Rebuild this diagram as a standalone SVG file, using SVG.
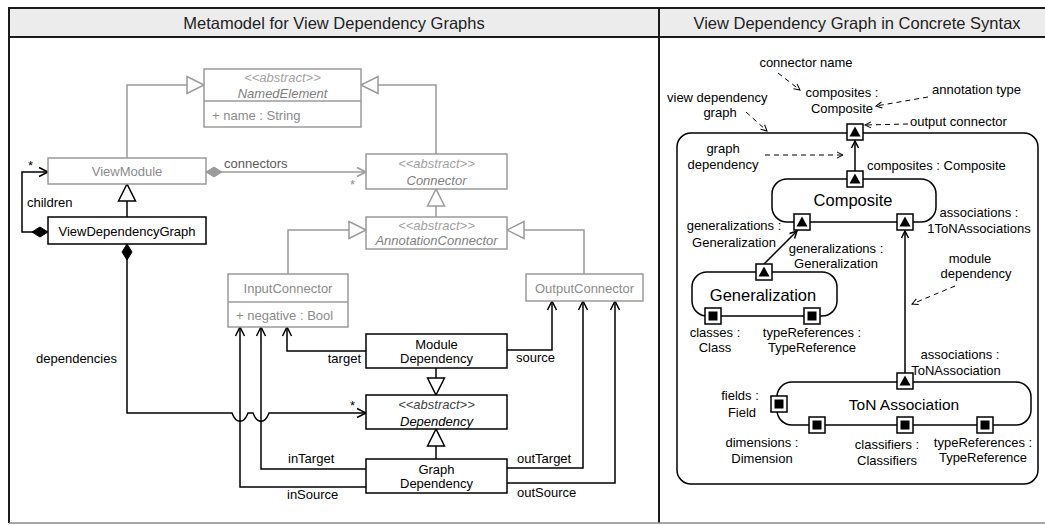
<svg xmlns="http://www.w3.org/2000/svg" width="1045" height="525" viewBox="0 0 1045 525">
  <style>
    text { font-family: "Liberation Sans", Arial, Helvetica, sans-serif; font-size: 13px; fill: #000; }
    .title { font-size: 16.5px; fill: #222; text-anchor: middle; }
    .mid { text-anchor: middle; }
    .end { text-anchor: end; }
    .gtxt { fill: #8c8c8c; }
    .ster { fill: #a3a3a3; font-style: italic; }
    .gital { fill: #7f7f7f; font-style: italic; }
    .ital { font-style: italic; }
    .gbox { fill: #fff; stroke: #9b9b9b; stroke-width: 1.5; }
    .bbox { fill: #fff; stroke: #000; stroke-width: 1.5; }
    .gline { fill: none; stroke: #9b9b9b; stroke-width: 1.5; }
    .bline { fill: none; stroke: #000; stroke-width: 1.5; }
    .frame { fill: none; stroke: #1a1a1a; stroke-width: 2; }
    .band { fill: #ececec; }
    .comp { fill: #fff; stroke: #000; stroke-width: 1.5; }
    .note { fill: none; stroke: #000; stroke-width: 1; stroke-dasharray: 5 4; }
    .big { font-size: 16.5px; }
  </style>
  <defs>
    <!-- UML heads -->
    <marker id="triG" markerUnits="userSpaceOnUse" markerWidth="20" markerHeight="20" refX="0" refY="0" orient="auto" overflow="visible">
      <path d="M0,0 L-17,-8.5 L-17,8.5 Z" fill="#fff" stroke="#9b9b9b" stroke-width="1.5"/>
    </marker>
    <marker id="triB" markerUnits="userSpaceOnUse" markerWidth="20" markerHeight="20" refX="0" refY="0" orient="auto" overflow="visible">
      <path d="M0,0 L-17,-8.5 L-17,8.5 Z" fill="#fff" stroke="#000" stroke-width="1.5"/>
    </marker>
    <marker id="diaG" markerUnits="userSpaceOnUse" markerWidth="20" markerHeight="20" refX="0" refY="0" orient="auto" overflow="visible">
      <path d="M0,0 L8,-5 L16,0 L8,5 Z" fill="#9b9b9b" stroke="#9b9b9b" stroke-width="1"/>
    </marker>
    <marker id="diaB" markerUnits="userSpaceOnUse" markerWidth="20" markerHeight="20" refX="0" refY="0" orient="auto" overflow="visible">
      <path d="M0,0 L8,-5 L16,0 L8,5 Z" fill="#000" stroke="#000" stroke-width="1"/>
    </marker>
    <marker id="arrG" markerUnits="userSpaceOnUse" markerWidth="12" markerHeight="12" refX="0" refY="0" orient="auto" overflow="visible">
      <path d="M-9,-4.5 L0,0 L-9,4.5" fill="none" stroke="#9b9b9b" stroke-width="1.5"/>
    </marker>
    <marker id="arrB" markerUnits="userSpaceOnUse" markerWidth="12" markerHeight="12" refX="0" refY="0" orient="auto" overflow="visible">
      <path d="M-9,-4.5 L0,0 L-9,4.5" fill="none" stroke="#000" stroke-width="1.5"/>
    </marker>
    <marker id="arrS" markerUnits="userSpaceOnUse" markerWidth="10" markerHeight="10" refX="0" refY="0" orient="auto" overflow="visible">
      <path d="M-7,-3.5 L0,0 L-7,3.5" fill="none" stroke="#000" stroke-width="1.5"/>
    </marker>
    <marker id="arrD" markerUnits="userSpaceOnUse" markerWidth="10" markerHeight="10" refX="0" refY="0" orient="auto" overflow="visible">
      <path d="M-6,-3 L0,0 L-6,3" fill="none" stroke="#000" stroke-width="1"/>
    </marker>
    <!-- concrete-syntax ports -->
    <g id="outPort">
      <rect x="-8" y="-8" width="16" height="16" fill="#fff" stroke="#000" stroke-width="1.5"/>
      <path d="M-5.5,4.5 L0,-5.5 L5.5,4.5 Z" fill="#000"/>
    </g>
    <g id="inPort">
      <rect x="-8" y="-8" width="16" height="16" fill="#fff" stroke="#000" stroke-width="1.5"/>
      <rect x="-4.5" y="-4.5" width="9" height="9" fill="#000"/>
    </g>
  </defs>

  <rect width="1045" height="525" fill="#fff"/>

  <!-- panel frames -->
  <g id="panels">
    <rect class="band" x="9" y="8" width="1040" height="29"/>
    <line class="frame" x1="8" y1="8" x2="1045" y2="8"/>
    <line class="frame" x1="8" y1="37" x2="1045" y2="37"/>
    <line class="frame" x1="9" y1="7" x2="9" y2="523"/>
    <line class="frame" x1="659" y1="7" x2="659" y2="523"/>
    <line x1="9" y1="523" x2="1045" y2="523" stroke="#8a8a8a" stroke-width="1.5"/>
    <text class="title" x="334" y="29">Metamodel for View Dependency Graphs</text>
    <text class="title" x="857" y="29">View Dependency Graph in Concrete Syntax</text>
  </g>

  <!-- metamodel connectors -->
  <g id="connectors">
    <path class="gline" d="M127,158 L127,85 L204,85" marker-end="url(#triG)"/>
    <path class="gline" d="M436,154 L436,85 L361,85" marker-end="url(#triG)"/>
    <path class="gline" d="M436,217 L436,189" marker-end="url(#triG)"/>
    <path class="gline" d="M288,274 L288,230 L366,230" marker-end="url(#triG)"/>
    <path class="gline" d="M584,274 L584,230 L507,230" marker-end="url(#triG)"/>
    <path class="gline" d="M206,172 L366,172" marker-start="url(#diaG)" marker-end="url(#arrG)"/>

    <path class="bline" d="M127,217 L127,184" marker-end="url(#triB)"/>
    <path class="bline" d="M48,232 L22,232 L22,172 L48,172" marker-start="url(#diaB)" marker-end="url(#arrB)"/>
    <path class="bline" d="M127,244 L127,413 L232,413 C236,424 244,424 248,413 L253,413 C257,424 265,424 269,413 L366,413" marker-start="url(#diaB)" marker-end="url(#arrB)"/>
    <path class="bline" d="M436,368 L436,395" marker-end="url(#triB)"/>
    <path class="bline" d="M436,459 L436,429" marker-end="url(#triB)"/>
    <path class="bline" d="M366,351 L287,351 L287,327" marker-end="url(#arrB)"/>
    <path class="bline" d="M507,350 L552,350 L552,301" marker-end="url(#arrB)"/>
    <path class="bline" d="M366,469 L261,469 L261,327" marker-end="url(#arrB)"/>
    <path class="bline" d="M366,487 L240,487 L240,327" marker-end="url(#arrB)"/>
    <path class="bline" d="M507,468 L583,468 L583,301" marker-end="url(#arrB)"/>
    <path class="bline" d="M507,483 L615,483 L615,301" marker-end="url(#arrB)"/>

    <text x="224" y="168" style="fill:#5a5a5a">connectors</text>
    <text x="350" y="189" class="gtxt">*</text>
    <text x="28" y="170">*</text>
    <text x="27" y="207">children</text>
    <text x="36" y="363">dependencies</text>
    <text x="350" y="410">*</text>
    <text class="end" x="361" y="363">target</text>
    <text x="516" y="362">source</text>
    <text x="288" y="463">inTarget</text>
    <text x="287" y="499">inSource</text>
    <text x="517" y="463">outTarget</text>
    <text x="517" y="497">outSource</text>
  </g>

  <!-- metamodel classes -->
  <g id="NamedElement">
    <rect class="gbox" x="204" y="69" width="157" height="58"/>
    <line class="gline" x1="204" y1="101" x2="361" y2="101"/>
    <text class="ster mid" x="282.5" y="82">&lt;&lt;abstract&gt;&gt;</text>
    <text class="gital mid" x="282.5" y="98">NamedElement</text>
    <text class="gtxt" x="212" y="120">+ name : String</text>
  </g>
  <g id="ViewModule">
    <rect class="gbox" x="48" y="158" width="158" height="26"/>
    <text class="gtxt mid" x="127" y="176">ViewModule</text>
  </g>
  <g id="ViewDependencyGraph">
    <rect class="bbox" x="48" y="217" width="158" height="27"/>
    <text class="mid" x="127" y="236">ViewDependencyGraph</text>
  </g>
  <g id="Connector">
    <rect class="gbox" x="366" y="154" width="141" height="35"/>
    <text class="ster mid" x="436.5" y="168">&lt;&lt;abstract&gt;&gt;</text>
    <text class="gital mid" x="436.5" y="185">Connector</text>
  </g>
  <g id="AnnotationConnector">
    <rect class="gbox" x="366" y="217" width="141" height="32"/>
    <text class="ster mid" x="436.5" y="230">&lt;&lt;abstract&gt;&gt;</text>
    <text class="gital mid" x="436.5" y="245">AnnotationConnector</text>
  </g>
  <g id="InputConnector">
    <rect class="gbox" x="228" y="274" width="120" height="53"/>
    <line class="gline" x1="228" y1="302" x2="348" y2="302"/>
    <text class="gtxt mid" x="288" y="293">InputConnector</text>
    <text class="gtxt" x="236" y="320">+ negative : Bool</text>
  </g>
  <g id="OutputConnector">
    <rect class="gbox" x="526" y="274" width="117" height="27"/>
    <text class="gtxt mid" x="584.5" y="293">OutputConnector</text>
  </g>
  <g id="ModuleDependency">
    <rect class="bbox" x="366" y="334" width="141" height="34"/>
    <text class="mid" x="436.5" y="349">Module</text>
    <text class="mid" x="436.5" y="363">Dependency</text>
  </g>
  <g id="Dependency">
    <rect class="bbox" x="366" y="395" width="141" height="34"/>
    <text class="ital mid" x="436.5" y="409" style="fill:#444">&lt;&lt;abstract&gt;&gt;</text>
    <text class="ital mid" x="436.5" y="426">Dependency</text>
  </g>
  <g id="GraphDependency">
    <rect class="bbox" x="366" y="459" width="141" height="34"/>
    <text class="mid" x="436.5" y="474">Graph</text>
    <text class="mid" x="436.5" y="488">Dependency</text>
  </g>

  <!-- concrete syntax: view dependency graph -->
  <g id="vdg">
    <rect class="comp" x="677" y="133" width="361" height="351" rx="14"/>
  </g>
  <g id="Composite">
    <rect class="comp" x="772" y="179" width="164" height="43" rx="15"/>
    <text class="mid big" x="853" y="206">Composite</text>
  </g>
  <g id="Generalization">
    <rect class="comp" x="692" y="272" width="145" height="44" rx="15"/>
    <text class="mid big" x="763" y="301">Generalization</text>
  </g>
  <g id="ToNAssociation">
    <rect class="comp" x="777" y="382" width="254" height="43" rx="15"/>
    <text class="mid" x="904" y="410" style="font-size:15.5px">ToN Association</text>
  </g>

  <g id="dependencies">
    <path class="bline" d="M855,171 L855,141" marker-end="url(#arrS)"/>
    <path class="bline" d="M764,264 L797,231" marker-end="url(#arrS)"/>
    <path class="bline" d="M905,373 L905,231" marker-end="url(#arrS)"/>
  </g>

  <g id="ports">
    <use href="#outPort" x="855" y="132"/>
    <use href="#outPort" x="855" y="179"/>
    <use href="#outPort" x="802" y="222"/>
    <use href="#outPort" x="905" y="222"/>
    <use href="#outPort" x="764" y="272"/>
    <use href="#inPort" x="713" y="316"/>
    <use href="#inPort" x="812" y="316"/>
    <use href="#outPort" x="905" y="381"/>
    <use href="#inPort" x="779" y="404"/>
    <use href="#inPort" x="817" y="425"/>
    <use href="#inPort" x="905" y="425"/>
    <use href="#inPort" x="985" y="425"/>
  </g>

  <g id="annotations">
    <path class="note" d="M778,73 L800,90" marker-end="url(#arrD)"/>
    <path class="note" d="M928,97 L876,106" marker-end="url(#arrD)"/>
    <path class="note" d="M746,112 L767,131" marker-end="url(#arrD)"/>
    <path class="note" d="M908,124 L865,125" marker-end="url(#arrD)"/>
    <path class="note" d="M765,155 L843,155" marker-end="url(#arrD)"/>
    <path class="note" d="M955,286 L912,304" marker-end="url(#arrD)"/>
  </g>

  <g id="labels">
    <text class="mid" x="806" y="67">connector name</text>
    <text class="mid" x="842" y="97">composites :</text>
    <text class="mid" x="842" y="113">Composite</text>
    <text x="932" y="94">annotation type</text>
    <text x="667" y="102">view dependency</text>
    <text class="mid" x="720" y="117">graph</text>
    <text x="910" y="126">output connector</text>
    <text class="mid" x="723" y="153">graph</text>
    <text class="mid" x="723" y="169">dependency</text>
    <text x="867" y="170">composites : Composite</text>
    <text class="mid" x="734" y="230">generalizations :</text>
    <text class="mid" x="734" y="247">Generalization</text>
    <text class="mid" x="979" y="217">associations :</text>
    <text class="mid" x="979" y="233">1ToNAssociations</text>
    <text class="mid" x="836" y="253">generalizations :</text>
    <text class="mid" x="836" y="268">Generalization</text>
    <text class="mid" x="970" y="263">module</text>
    <text class="mid" x="976" y="278">dependency</text>
    <text class="mid" x="715" y="337">classes :</text>
    <text class="mid" x="715" y="352">Class</text>
    <text class="mid" x="812" y="337">typeReferences :</text>
    <text class="mid" x="812" y="352">TypeReference</text>
    <text class="mid" x="960" y="359">associations :</text>
    <text class="mid" x="956" y="375">ToNAssociation</text>
    <text class="mid" x="740" y="400">fields :</text>
    <text class="mid" x="742" y="417">Field</text>
    <text class="mid" x="762" y="447">dimensions :</text>
    <text class="mid" x="762" y="463">Dimension</text>
    <text class="mid" x="887" y="449">classifiers :</text>
    <text class="mid" x="887" y="465">Classifiers</text>
    <text class="mid" x="983" y="447">typeReferences :</text>
    <text class="mid" x="983" y="462">TypeReference</text>
  </g>
</svg>
